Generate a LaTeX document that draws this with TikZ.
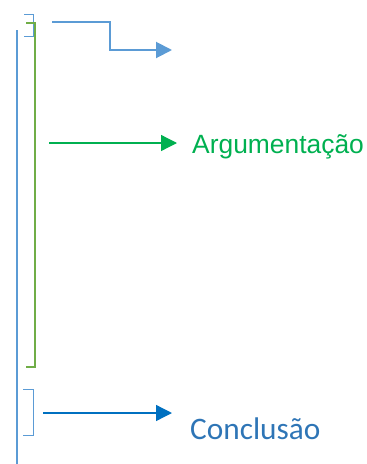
\documentclass[tikz,border=0pt]{standalone}
\usepackage{fontspec}
\newfontfamily\arialfont{Liberation Sans}
\newfontfamily\calibrifont{Carlito}
\usepackage{xcolor}
\usetikzlibrary{arrows.meta,positioning}
\definecolor{outlineblue}{HTML}{5B9BD5}
\definecolor{partgreen}{HTML}{70AD47}
\definecolor{arggreen}{HTML}{00B050}
\definecolor{concblue}{HTML}{0070C0}
\definecolor{conctext}{HTML}{2E75B6}

\begin{document}
\begin{tikzpicture}[x=1pt, y=-1pt, >={Triangle[length=16pt,width=16pt]}]
    \useasboundingbox (0,0) rectangle (367,464);

    % Outline bar and brackets
    \draw[line width=1.6pt, outlineblue] (17,30) -- (17,464);
    \draw[line width=1pt, outlineblue] (24,14) -- (33,14) -- (33,36) -- (24,36);
    \draw[line width=2pt, partgreen] (26,23) -- (35,23) -- (35,367) -- (26,367);
    \draw[line width=1pt, outlineblue] (23,389) -- (33,389) -- (33,435) -- (23,435);

    % Introducao
    \coordinate (introfrom) at (52,22);
    \coordinate (introtip) at (172,50);
    \draw[->, line width=2pt, outlineblue] (introfrom) -| (110,50) -- (introtip);

    % Argumentacao
    \coordinate (argfrom) at (49,143);
    \coordinate (argtip) at (177,143);
    \draw[->, line width=1.3pt, arggreen] (argfrom) -- (argtip);
    \node[right=15pt of argtip, yshift=-4pt, inner sep=0pt, font=\arialfont\fontsize{26.4}{30}\selectfont, text=arggreen] (arg) {Argumentação};

    % Conclusao
    \coordinate (concfrom) at (43,413);
    \coordinate (conctip) at (172,413);
    \draw[->, line width=1.3pt, concblue] (concfrom) -- (conctip);
    \node[anchor=base west, inner sep=0pt, font=\calibrifont\fontsize{31.3}{36}\selectfont, text=conctext] (conc) at (190,439) {Conclusão};
\end{tikzpicture}
\end{document}
